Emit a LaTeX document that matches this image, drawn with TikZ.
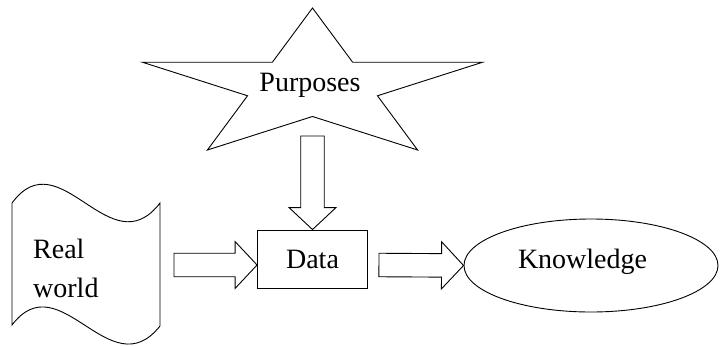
\documentclass[tikz,border=0pt]{standalone}
\usepackage{fontspec}
\setmainfont{Liberation Serif}
\usetikzlibrary{calc,shapes.geometric}

% hollow block arrow from #1 to #2
\newcommand{\hollowarrow}[2]{%
	\coordinate (hb) at ($(#2)!\headlen!(#1)$);
	\draw[outline] ($(#1)!\shaftw!90:(#2)$) -- ($(hb)!\shaftw!90:(#2)$)
	-- ($(hb)!\headw!90:(#2)$) -- (#2) -- ($(hb)!\headw!-90:(#2)$)
	-- ($(hb)!\shaftw!-90:(#2)$) -- ($(#1)!\shaftw!-90:(#2)$) -- cycle;}

\begin{document}
\begin{tikzpicture}[x=1pt, y=-1pt,
	outline/.style={draw, line width=0.9pt, line join=miter},
	txt/.style={font=\fontsize{28}{39}\selectfont, inner sep=0pt}]
			\def\shaftw{11.75pt}
			\def\headw{23.5pt}
			\def\headlen{22pt}
			\useasboundingbox (0,0) rectangle (726,346);
			% star
			\foreach \k in {0,...,9} {
				\pgfmathsetmacro\rr{ifthenelse(mod(\k,2)==0,1,0.382)}
				\coordinate (S\k) at ({312.5+178.8*\rr*cos(90+36*\k)}, {86.5-78.5*\rr*sin(90+36*\k)});
			}
			\draw[outline] (S0) -- (S1) -- (S2) -- (S3) -- (S4) -- (S5) -- (S6) -- (S7) -- (S8) -- (S9) -- cycle;
			\node[txt] (purposes) at (310,85.5) {Purposes};
			% real world
			\draw[outline] (12,203) .. controls (60,138) and (110,268) .. (160,203)
			-- (160,326) .. controls (110,389) and (60,262) .. (12,325) -- cycle;
			\node[txt, anchor=west, align=left] (world) at (33,268) {Real\\world};
			\coordinate (rwout) at (174,265);
			% data and knowledge
			\node[txt, outline, rectangle, minimum width=110pt, minimum height=58pt] (data) at (312.5,259) {Data};
			\node[txt, outline, ellipse, minimum width=254pt, minimum height=93pt,
				text width=146pt, align=left, text height=19pt, text depth=14pt] (knowledge) at (591,265.5) {Knowledge};
			\coordinate (datain) at ([yshift=-6pt]data.west);
			\coordinate (dataout) at ([xshift=11pt,yshift=-6pt]data.east);
			\coordinate (starout) at ([yshift=-19.5pt]S5);
			\hollowarrow{rwout}{datain}
			\hollowarrow{dataout}{knowledge.west}
			\hollowarrow{starout}{data.north}
\end{tikzpicture}
\end{document}
